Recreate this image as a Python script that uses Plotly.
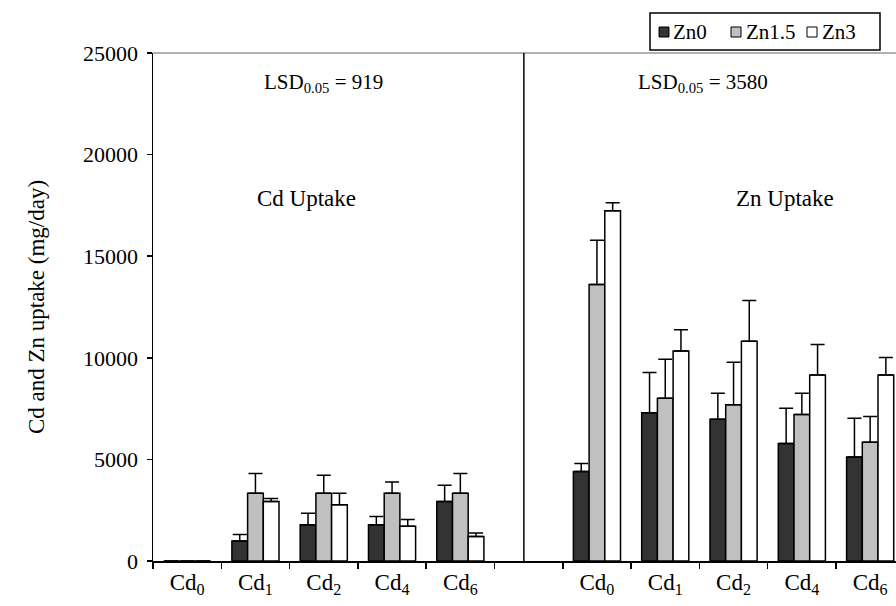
import plotly.graph_objects as go

# ---------------- data ----------------
cd_levels = ["Cd<sub>0</sub>", "Cd<sub>1</sub>", "Cd<sub>2</sub>", "Cd<sub>4</sub>", "Cd<sub>6</sub>"]
series_names = ["Zn0", "Zn1.5", "Zn3"]

# Cd uptake (mg/day), per Cd level
cd_up_zn0 = [0, 990, 1790, 1790, 2930]
cd_up_zn15 = [0, 3330, 3330, 3330, 3330]
cd_up_zn3 = [0, 2930, 2770, 1710, 1210]
cd_up_zn0_err = [None, 320, 560, 400, 800]
cd_up_zn15_err = [None, 980, 890, 560, 980]
cd_up_zn3_err = [None, 150, 560, 330, 170]

# Zn uptake (mg/day), per Cd level
zn_up_zn0 = [4400, 7290, 6980, 5780, 5120]
zn_up_zn15 = [13610, 8010, 7690, 7210, 5850]
zn_up_zn3 = [17240, 10330, 10820, 9150, 9150]
zn_up_zn0_err = [400, 1990, 1280, 1740, 1910]
zn_up_zn15_err = [2180, 1920, 2090, 1050, 1260]
zn_up_zn3_err = [390, 1050, 2000, 1510, 870]

y_ticks = [0, 5000, 10000, 15000, 20000, 25000]
y_tick_labels = ["0", "5000", "10000", "15000", "20000", "25000"]
lsd_cd = "LSD<sub>0.05</sub> = 919"
lsd_zn = "LSD<sub>0.05</sub> = 3580"

# ---------------- layout helpers ----------------
W, H = 896, 606
L, R, T, B = 153, 0, 53, 45
PW, PH = W - L - R, H - T - B
FONT = "Liberation Serif, Times New Roman, serif"


def fx(px):
    return (px - L) / PW


def fy(py):
    return (H - B - py) / PH


cd_x = list(range(len(cd_levels)))               # Cd uptake group
zn_x = [len(cd_levels) + 1 + i for i in cd_x]    # Zn uptake group (after a gap)
all_x = cd_x + zn_x

colors = ["#333333", "#c0c0c0", "#ffffff"]
vals = [cd_up_zn0 + zn_up_zn0, cd_up_zn15 + zn_up_zn15, cd_up_zn3 + zn_up_zn3]
errs = [cd_up_zn0_err + zn_up_zn0_err, cd_up_zn15_err + zn_up_zn15_err,
        cd_up_zn3_err + zn_up_zn3_err]

fig = go.Figure()
for name, col, v, e in zip(series_names, colors, vals, errs):
    fig.add_trace(go.Bar(
        x=all_x, y=v, name=name,
        marker=dict(color=col, line=dict(color="black", width=1.5)),
        error_y=dict(type="data", symmetric=False, array=e,
                     arrayminus=[0 if a is not None else None for a in e],
                     color="black", thickness=1.5, width=7),
        showlegend=False,
    ))

cat_w = 68.3
x_lo = -0.5
x_hi = x_lo + PW / cat_w

fig.update_layout(
    width=W, height=H,
    margin=dict(l=L, r=R, t=T, b=B, pad=0),
    paper_bgcolor="white", plot_bgcolor="white",
    barmode="group", bargap=0.31, bargroupgap=0,
    font=dict(family=FONT, size=22, color="black"),
    xaxis=dict(
        range=[x_lo, x_hi], tickmode="array", tickvals=all_x,
        ticktext=cd_levels + cd_levels, ticks="", showgrid=False,
        zeroline=False, showline=True, linecolor="black", linewidth=1.5,
        tickfont=dict(family=FONT, size=23), ticklabelstandoff=0,
        minor=dict(ticks="outside", ticklen=6, tickwidth=1.5,
                   tickcolor="black", tickmode="linear", tick0=-0.5, dtick=1,
                   showgrid=False),
    ),
    yaxis=dict(
        range=[0, 25000], tickmode="array", tickvals=y_ticks,
        ticktext=y_tick_labels,
        ticks="outside", ticklen=5, tickwidth=1.5, tickcolor="black",
        showgrid=False, zeroline=False, showline=True, linecolor="black",
        linewidth=1.5, tickfont=dict(family=FONT, size=22), ticklabelstandoff=4,
        title=dict(text="Cd and Zn uptake (mg/day)",
                   font=dict(family=FONT, size=23), standoff=32),
    ),
)

shapes = []
# top border of plot area (grey)
shapes.append(dict(type="line", xref="paper", yref="paper", x0=0, x1=1, y0=1, y1=1,
                   line=dict(color="#999999", width=1.5)))
# divider between the two panels
shapes.append(dict(type="line", xref="x", yref="paper", x0=4.93, x1=4.93, y0=0, y1=1,
                   line=dict(color="black", width=1.5)))
# legend box
shapes.append(dict(type="rect", xref="paper", yref="paper",
                   x0=fx(650), x1=fx(880), y0=fy(50), y1=fy(13),
                   line=dict(color="black", width=1.5), fillcolor="white"))
leg_sq = [659, 731, 807]
leg_tx = [671, 744, 820]
for sx, col in zip(leg_sq, colors):
    shapes.append(dict(type="rect", xref="paper", yref="paper",
                       x0=fx(sx), x1=fx(sx + 10), y0=fy(37), y1=fy(27),
                       line=dict(color="black", width=1), fillcolor=col))

annotations = []
for tx, name in zip(leg_tx, series_names):
    annotations.append(dict(xref="paper", yref="paper", x=fx(tx), y=fy(31.5),
                            text=name, showarrow=False, xanchor="left",
                            yanchor="middle", font=dict(family=FONT, size=21)))
annotations += [
    dict(xref="paper", yref="paper", x=fx(323), y=fy(83), text=lsd_cd,
         showarrow=False, xanchor="center", yanchor="middle",
         font=dict(family=FONT, size=21)),
    dict(xref="paper", yref="paper", x=fx(703), y=fy(83), text=lsd_zn,
         showarrow=False, xanchor="center", yanchor="middle",
         font=dict(family=FONT, size=21)),
    dict(xref="paper", yref="paper", x=fx(306), y=fy(198), text="Cd Uptake",
         showarrow=False, xanchor="center", yanchor="middle",
         font=dict(family=FONT, size=23)),
    dict(xref="paper", yref="paper", x=fx(785), y=fy(198), text="Zn Uptake",
         showarrow=False, xanchor="center", yanchor="middle",
         font=dict(family=FONT, size=23)),
]

fig.update_layout(shapes=shapes, annotations=annotations)
fig.write_html("out.html",
               config={"displayModeBar": False, "staticPlot": True},
               post_script="document.body.style.margin='0px';"
                           "document.body.style.overflow='hidden';")
